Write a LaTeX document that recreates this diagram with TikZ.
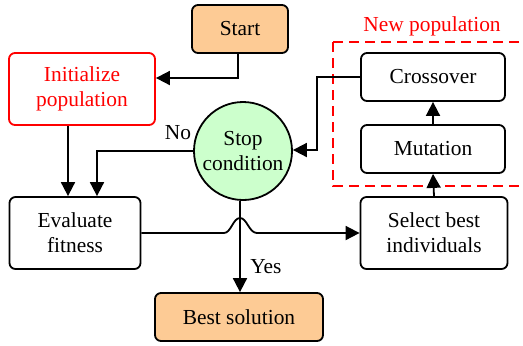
\documentclass[tikz,border=0pt]{standalone}
\usepackage{fontspec}
\setmainfont{Liberation Serif}
\usetikzlibrary{arrows.meta}
\definecolor{boxorange}{HTML}{FDCB95}
\definecolor{stopgreen}{HTML}{CCFFCC}
\begin{document}
\begin{tikzpicture}[x=0.5pt, y=-0.5pt,
    font=\fontsize{10.7}{12.5}\selectfont,
    block/.style={draw, rounded corners=3pt, line width=0.9pt, align=center,
        inner sep=0pt, minimum width=#1},
    block/.default=72pt,
    arr/.style={-{Triangle[length=7pt, width=7pt]}, line width=0.9pt}]
    \useasboundingbox (0,0) rectangle (523,345);
    % Start and end
    \node[block=48pt, minimum height=24pt, fill=boxorange] (Start) at (240,29) {Start};
    \node[block=84pt, minimum height=24pt, fill=boxorange] (Best) at (239,317) {Best solution};
    % Left column
    \node[block=73pt, minimum height=36pt, draw=red, text=red] (Init) at (82,89) {Initialize\\population};
    \node[block=65.5pt, minimum height=36pt] (Eval) at (75,233) {Evaluate\\fitness};
    % Stop condition
    \node[circle, draw, line width=0.9pt, fill=stopgreen, minimum size=49pt,
        inner sep=0pt, align=center] (Stop) at (243,151) {Stop\\condition};
    % New population
    \foreach \name/\txt/\y in {Cross/Crossover/77, Mut/Mutation/149} {
        \node[block, minimum height=24pt] (\name) at (433,\y) {\txt};
    }
    \node[block=73.5pt, minimum height=36pt] (Select) at (434,233) {Select best\\individuals};
    \draw[red, dashed, dash pattern=on 5pt off 3pt, line width=0.8pt]
        (333,42) rectangle (530,186);
    \node[text=red] (NewPop) at (432,26) {New population};
    % Arrows
    \draw[arr] (Start.south -| 238,0) |- (Init.east |- 0,78);
    \draw[arr] (Init.south -| 68,0) -- (Eval.north -| 68,0);
    \draw[arr] (Stop.west) -| (Eval.north -| 97,0);
    \node (No) at (178,133) {No};
    \draw[arr] (Stop.south -| 240,0) -- (Best.north -| 240,0);
    \node (Yes) at (266,267) {Yes};
    \coordinate (hopL) at (224,233);
    \coordinate (hopT) at (240,218);
    \coordinate (hopR) at (257,233);
    \draw[arr] (Eval.east |- hopL) -- (hopL)
        .. controls (231,233) and (233,218) .. (hopT)
        .. controls (247,218) and (249,233) .. (hopR) -- (Select.west |- hopR);
    \draw[arr] (Select.north) -- (Mut.south);
    \draw[arr] (Mut.north) -- (Cross.south);
    \draw[arr] (Cross.west) -| (317,150) -- (Stop.east |- 0,150);
\end{tikzpicture}
\end{document}
